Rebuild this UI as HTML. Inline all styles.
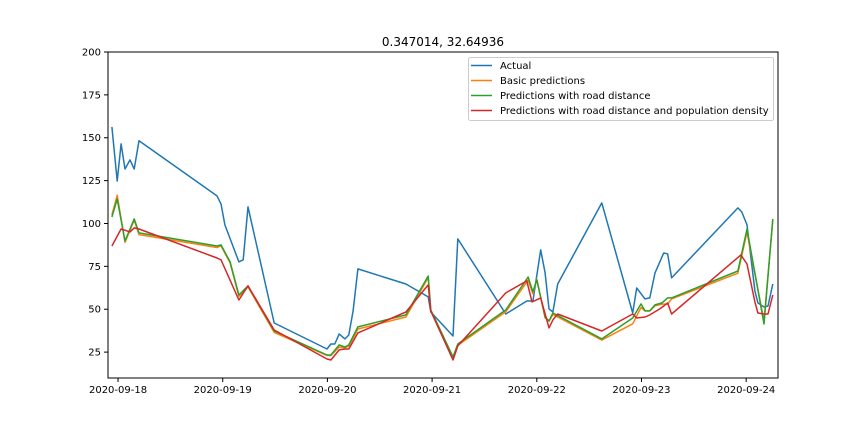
<!DOCTYPE html>
<html><head><meta charset="utf-8"><style>
body{margin:0;background:#fff;}
svg text{font-family:"DejaVu Sans","Liberation Sans",sans-serif;font-size:10px;fill:#000;}
</style></head><body>
<svg id="chart" width="864" height="432" viewBox="0 0 864 432" xmlns="http://www.w3.org/2000/svg">
<rect width="864" height="432" fill="#fff"/>
<text x="443" y="46" text-anchor="middle" style="font-size:12px">0.347014, 32.64936</text>
<g id="grid"></g>
<g id="series"></g>
<rect x="108" y="52" width="670" height="326" fill="none" stroke="#000" stroke-width="1"/>
<g id="legend"></g>
</svg>
<script>
// hours since 2020-09-18 00:00
const actualHours=[-1.4,-0.2,0.7,1.6,2.75,3.7,4.8,22.7,23.6,24.5,27.7,28.7,29.8,35.8,47.9,48.8,49.7,50.7,52.0,52.9,53.9,55.0,66.0,71.1,71.7,76.8,77.9,88.9,93.7,95.1,96.9,97.9,98.8,99.7,100.8,110.9,118.0,118.9,120.8,121.9,123.1,125.1,126.0,126.9,142.1,143.0,144.2,146.0,146.7,148.1,149.0,150.1];
const actualValues=[156.3,124.8,146.4,131.8,137.1,131.8,148.2,116.1,111.4,99.2,77.6,78.8,109.7,42.0,26.8,29.7,29.7,35.6,32.7,35.0,49.0,73.5,64.7,57.2,48.4,34.4,91.0,47.2,54.8,54.8,84.6,71.2,50.2,48.4,64.7,112.0,47.8,62.4,56.0,56.6,71.2,82.8,82.3,68.3,109.1,106.7,99.2,60.7,53.7,51.3,51.9,64.7];
const predHours=[-1.4,-0.2,1.6,3.7,4.8,22.7,23.6,25.7,27.7,29.8,35.8,47.9,48.8,50.7,52.0,52.9,55.0,66.0,71.1,71.7,76.8,77.9,88.9,94.0,95.1,96.0,97.9,98.8,99.7,110.9,118.0,119.9,120.8,121.9,123.1,124.7,126.0,126.9,142.1,144.2,148.1,150.1];
const basicValues=[105,116.5,89,102,93.5,86,87,77,57.5,63,36.5,23,23,28,27.5,28.5,38.5,45.5,68.5,49,21,29,48.5,67,59,67.5,45,43,47,32,41.5,51,49,49,52,53,53,56,71,95,43,102];
const roadValues=[103.8,114.3,89.8,102.7,94.5,86.9,87.5,77.6,58.3,63.6,37.3,23.3,23.3,29.2,28.0,29.2,39.7,46.7,69.4,49.6,22.2,29.7,49.6,68.8,60.1,67.1,45.5,43.2,47.8,32.7,44.9,53.1,49.0,49.0,52.5,53.7,56.6,56.6,72.3,96.8,41.4,102.7];
const popHours=[-1.4,0.7,2.75,3.7,4.8,22.7,23.6,27.7,29.8,35.8,47.9,48.8,50.7,52.0,52.9,55.0,66.0,71.1,71.7,76.8,77.9,88.9,93.7,94.9,96.9,98.8,99.7,100.8,110.9,118.0,118.9,120.8,121.9,124.2,125.1,126.0,126.9,142.8,144.2,146.0,146.7,148.1,149.0,150.1];
const popValues=[86.9,96.8,95.1,97.4,96.8,79.9,78.8,55.4,63.6,37.9,21.0,20.4,26.3,26.8,26.8,36.2,48.4,64.2,49.0,20.4,28.6,59.5,66.5,54.3,56.6,39.1,43.8,47.2,37.3,47.2,44.9,45.5,46.7,50.2,51.9,53.7,47.2,81.7,76.4,54.3,47.8,47.2,47.2,58.3];
const yTicks=[25,50,75,100,125,150,175,200];
const xTickLabels=["2020-09-18","2020-09-19","2020-09-20","2020-09-21","2020-09-22","2020-09-23","2020-09-24"];

const NS="http://www.w3.org/2000/svg";
const X0=108,X1=778,Y0=52,Y1=378;
const xMin=-2.3,xMax=151.3,yMin=9.9,yMax=200;
function xs(h){return X0+(h-xMin)/(xMax-xMin)*(X1-X0);}
function ys(v){return Y1-(v-yMin)/(yMax-yMin)*(Y1-Y0);}
function mk(tag,attrs,parent){const e=document.createElementNS(NS,tag);for(const k in attrs)e.setAttribute(k,attrs[k]);parent.appendChild(e);return e;}
const grid=document.getElementById('grid');
yTicks.forEach(t=>{
  const y=ys(t);
  const l=mk('line',{x1:X0-4,x2:X0,y1:y,y2:y,stroke:'#000'},grid);
  
  
  const tx=mk('text',{x:X0-7,y:y+3.5,'text-anchor':'end'},grid);
  tx.textContent=t;
  
  
});
xTickLabels.forEach((s,i)=>{
  const x=xs(i*24);
  const l=mk('line',{x1:x,x2:x,y1:Y1,y2:Y1+4,stroke:'#000'},grid);
  
  
  const tx=mk('text',{x:x,y:Y1+15,'text-anchor':'middle'},grid);
  tx.textContent=s;
  
  
});
const series=[
  {name:'Actual',h:actualHours,v:actualValues,c:'#1f77b4',id:'actual-line'},
  {name:'Basic predictions',h:predHours,v:basicValues,c:'#ff7f0e',id:'basic-predictions-line'},
  {name:'Predictions with road distance',h:predHours,v:roadValues,c:'#2ca02c',id:'road-distance-line'},
  {name:'Predictions with road distance and population density',h:popHours,v:popValues,c:'#d62728',id:'population-density-line'}
];
const sg=document.getElementById('series');
series.forEach(s=>{
  const d=s.h.map((h,i)=>(i?'L':'M')+xs(h).toFixed(1)+','+ys(s.v[i]).toFixed(1)).join(' ');
  const p=mk('path',{d:d,fill:'none',stroke:s.c,'stroke-width':1.5,'stroke-linejoin':'round'},sg);
  
  
});
const lg=document.getElementById('legend');
mk('rect',{x:468.5,y:57.5,width:305,height:63,rx:2,fill:'#fff','fill-opacity':0.8,stroke:'#ccc'},lg);
series.forEach((s,i)=>{
  const y=65.5+i*15;
  const l=mk('line',{x1:471,x2:492,y1:y,y2:y,stroke:s.c,'stroke-width':1.5},lg);
  
  
  const t=mk('text',{x:500,y:y+3.5},lg);
  t.textContent=s.name;
  
  
});
</script>
</body></html>
